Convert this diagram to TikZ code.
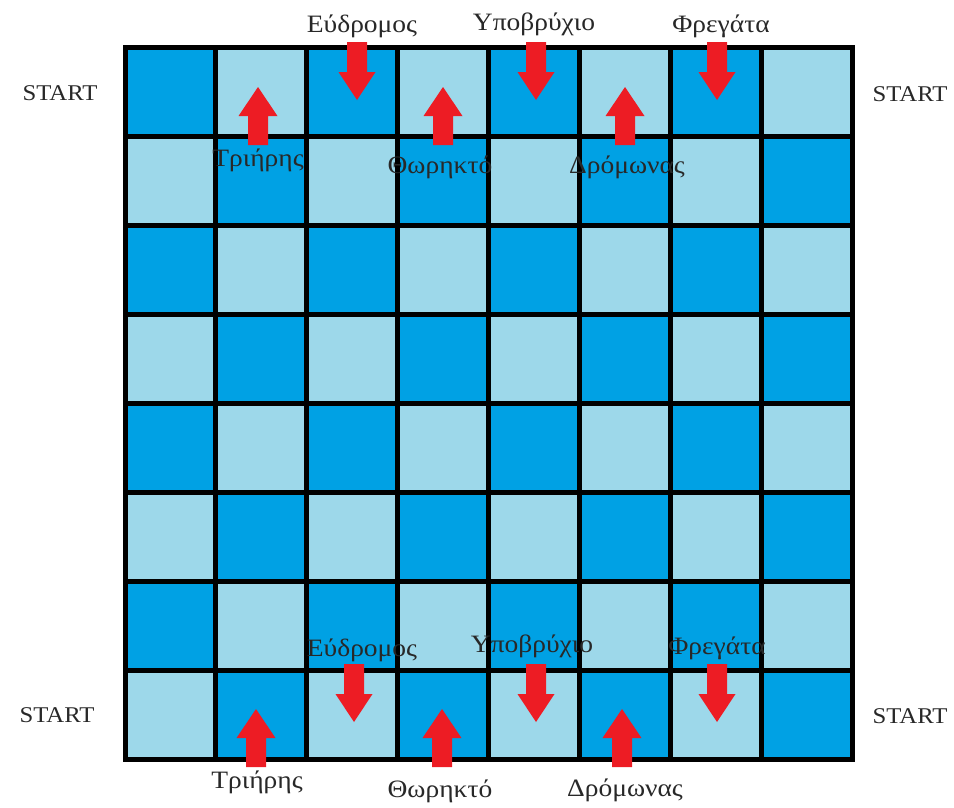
\documentclass[tikz,border=0pt]{standalone}
\usepackage{fontspec}
\setmainfont{Liberation Serif}
\newfontfamily\boardfont[FakeStretch=1.1]{Liberation Serif}
\usetikzlibrary{positioning}
\definecolor{celldark}{RGB}{0,161,228}
\definecolor{celllight}{RGB}{157,216,234}
\definecolor{arrowred}{RGB}{237,28,36}
\definecolor{labelgray}{RGB}{40,40,40}

\begin{document}
\begin{tikzpicture}[
        x=1pt, y=-1pt,
        shiplabel/.style={font=\boardfont\fontsize{25}{27}\selectfont, text=labelgray, inner sep=0pt},
        startlabel/.style={font=\boardfont\fontsize{22.5}{25}\selectfont, text=labelgray, inner sep=0pt},
        gridline/.style={line width=5pt, draw=black},
        uparrow/.pic={\fill[arrowred] (-10,0) -- (-10,-29) -- (-19.5,-29) -- (0,-58) -- (19.5,-29) -- (10,-29) -- (10,0) -- cycle;},
        downarrow/.pic={\fill[arrowred] (-10,0) -- (-10,30) -- (-18.5,30) -- (0,58) -- (18.5,30) -- (10,30) -- (10,0) -- cycle;}
    ]
        \useasboundingbox (0,0) rectangle (954,807);

        % Board cells
        \foreach \r in {0,...,7}
            \foreach \c in {0,...,7} {
                \pgfmathtruncatemacro\cellodd{mod(\r+\c,2)}
                \ifnum\cellodd=0 \def\cellclr{celldark}\else\def\cellclr{celllight}\fi
                \fill[\cellclr] ({125+\c*90.875},{47+\r*89}) rectangle +(90.875,89);
            }

        % Grid lines
        \foreach \i in {1,...,7} {
            \draw[gridline] ({125+\i*90.875},47) -- ++(0,712);
            \draw[gridline] (125,{47+\i*89}) -- ++(727,0);
        }
        \draw[gridline] (125,47) rectangle (852,759);

        % Top rows arrows
        \pic at (258,145) {uparrow};
        \pic at (443,145) {uparrow};
        \pic at (625,145) {uparrow};
        \pic at (357,42) {downarrow};
        \pic at (536,42) {downarrow};
        \pic at (717,42) {downarrow};

        % Bottom rows arrows
        \pic at (256,767) {uparrow};
        \pic at (442,767) {uparrow};
        \pic at (622,767) {uparrow};
        \pic at (354,664) {downarrow};
        \pic at (536,664) {downarrow};
        \pic at (717,664) {downarrow};

        % Start labels
        \node[startlabel] (startTL) at (60,93) {START};
        \node[startlabel] (startTR) at (910,94) {START};
        \node[startlabel] (startBL) at (57,715) {START};
        \node[startlabel] (startBR) at (910,716) {START};

        % Ship labels, top
        \node[shiplabel] (cruiserT) at (362,26) {Εύδρομος};
        \node[shiplabel] (submarineT) at (534,24) {Υποβρύχιο};
        \node[shiplabel] (frigateT) at (721,26) {Φρεγάτα};
        \node[shiplabel] (triremeT) at (258,160) {Τριήρης};
        \node[shiplabel] (battleshipT) at (440,167) {Θωρηκτό};
        \node[shiplabel] (dromonT) at (627,167) {Δρόμωνας};

        % Ship labels, bottom
        \node[shiplabel] (cruiserB) at (362,650) {Εύδρομος};
        \node[shiplabel] (submarineB) at (532,646) {Υποβρύχιο};
        \node[shiplabel] (frigateB) at (717,648) {Φρεγάτα};
        \node[shiplabel] (triremeB) at (257,782) {Τριήρης};
        \node[shiplabel] (battleshipB) at (440,791) {Θωρηκτό};
        \node[shiplabel] (dromonB) at (625,790) {Δρόμωνας};
    \end{tikzpicture}
\end{document}
